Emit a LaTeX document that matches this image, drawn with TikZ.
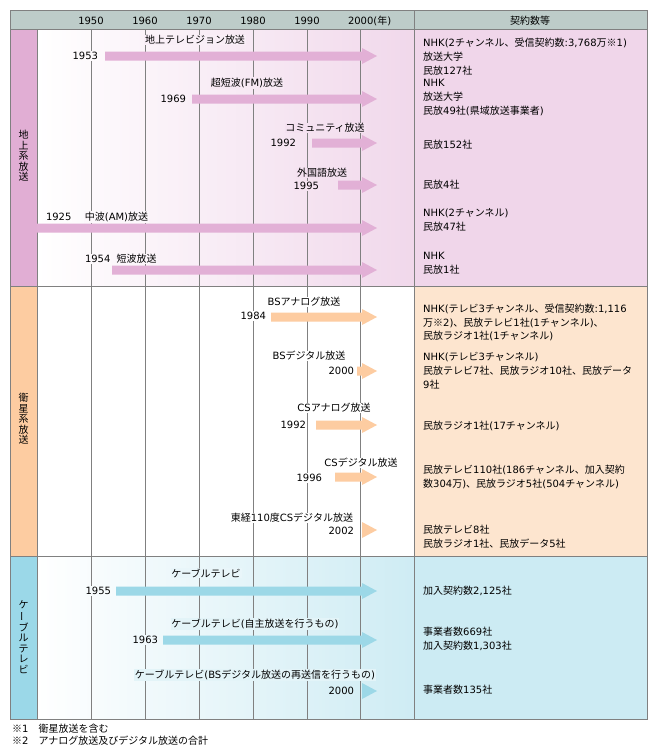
\documentclass[tikz,border=0pt]{standalone}
\usepackage{fontspec}
\setmainfont{Noto Sans CJK JP}
\newfontfamily\latfont{DejaVu Sans}
\newfontfamily\cjkfont{Noto Sans CJK JP}
\chardef\latcls=200
\makeatletter
\@tempcnta=`0 \loop\XeTeXcharclass\@tempcnta=\latcls\ifnum\@tempcnta<`9 \advance\@tempcnta\@ne\repeat
\@tempcnta=`A \loop\XeTeXcharclass\@tempcnta=\latcls\ifnum\@tempcnta<`Z \advance\@tempcnta\@ne\repeat
\@tempcnta=`a \loop\XeTeXcharclass\@tempcnta=\latcls\ifnum\@tempcnta<`z \advance\@tempcnta\@ne\repeat
\XeTeXcharclass`(=\latcls
\XeTeXcharclass`)=\latcls
\XeTeXcharclass`,=\latcls
\XeTeXcharclass`:=\latcls
\XeTeXcharclass`.=\latcls
\@for\cls:=0,1,2,3,4095\do{%
  \XeTeXinterchartoks\cls\latcls={\latfont}%
  \XeTeXinterchartoks\latcls\cls={\cjkfont}}
\makeatother
\XeTeXinterchartokenstate=1
\definecolor{hdrgray}{RGB}{189,204,201}
\definecolor{gridgray}{RGB}{128,128,128}
\definecolor{labP}{RGB}{225,174,212}
\definecolor{arrP}{RGB}{226,176,214}
\definecolor{bgP}{RGB}{240,214,234}
\definecolor{labO}{RGB}{253,204,161}
\definecolor{arrO}{RGB}{253,204,161}
\definecolor{bgO}{RGB}{253,229,207}
\definecolor{labC}{RGB}{155,216,232}
\definecolor{arrC}{RGB}{156,216,231}
\definecolor{bgC}{RGB}{204,235,243}
\newcommand\tlbar[3]{\fill[#1] (#2,{#3-4.5}) -- (362,{#3-4.5}) -- (362,{#3-8}) -- (377,#3) -- (362,{#3+8}) -- (362,{#3+4.5}) -- (#2,{#3+4.5}) -- cycle;}
\tikzset{
  txt/.style={font=\fontsize{10}{13.8}\selectfont, inner sep=0.8pt},
  lbl/.style={txt, fill=#1},
  lbl/.default=white,
  yrE/.style={txt, anchor=east, fill=#1},
  yrE/.default=white,
  yrW/.style={txt, anchor=west, fill=#1},
  rcol/.style={txt, anchor=west, align=left, inner sep=0pt},
  gridline/.style={draw=gridgray, line width=1pt},
  vlab/.style={font=\fontsize{10}{10.5}\selectfont, align=center, inner sep=0pt},
}
\begin{document}
\begin{tikzpicture}[x=1pt,y=-1pt]
\useasboundingbox (0,0) rectangle (657,756);
% header
\fill[hdrgray] (10,10) rectangle (647,29);
% label columns
\fill[labP] (10,29) rectangle (37,286);
\fill[labO] (10,286) rectangle (37,556);
\fill[labC] (10,556) rectangle (37,719);
% timeline backgrounds
\shade[left color=white, right color=bgP!95] (37,29) rectangle (414,286);
\fill[white] (37,286) rectangle (414,556);
\shade[left color=white, right color=bgC!95] (37,556) rectangle (414,719);
% right column
\fill[bgP] (414,29) rectangle (647,286);
\fill[bgO] (414,286) rectangle (647,556);
\fill[bgC] (414,556) rectangle (647,719);
% grid
\foreach \x in {91,145,199,253,307,360} \draw[gridline] (\x,29) -- (\x,719);
\draw[gridline] (37,29) -- (37,719);
\draw[gridline] (414,10) -- (414,719);
\draw[gridline] (10,29) -- (647,29);
\draw[gridline] (10,286) -- (647,286);
\draw[gridline] (10,556) -- (647,556);
\draw[gridline] (10,10) rectangle (647,719);
% header text
\node[txt] (h1950) at (91,20.5) {1950};
\node[txt] (h1960) at (145,20.5) {1960};
\node[txt] (h1970) at (199,20.5) {1970};
\node[txt] (h1980) at (253,20.5) {1980};
\node[txt] (h1990) at (307,20.5) {1990};
\node[txt, anchor=west] (h2000) at (347,20.5) {2000(年)};
\node[txt] (hright) at (530,20.5) {契約数等};
% vertical category labels
\node[vlab] (catT) at (23.5,156) {地\\上\\系\\放\\送};
\node[vlab] (catS) at (23.5,419) {衛\\星\\系\\放\\送};
\node[vlab] (catC) at (23.5,637) {ケ\\\rotatebox[origin=c]{90}{ー}\\ブ\\ル\\テ\\レ\\ビ};
% terrestrial arrows
\tlbar{arrP}{105}{56}
\tlbar{arrP}{192}{99}
\tlbar{arrP}{312}{143}
\tlbar{arrP}{338}{185}
\tlbar{arrP}{37}{228}
\tlbar{arrP}{112}{270}
% satellite arrows
\tlbar{arrO}{271}{317}
\tlbar{arrO}{357}{371}
\tlbar{arrO}{316}{425}
\tlbar{arrO}{335}{477}
\tlbar{arrO}{362}{530}
% cable arrows
\tlbar{arrC}{116}{591}
\tlbar{arrC}{163}{640}
\tlbar{arrC}{362}{691}
% terrestrial labels
\node[lbl=bgP!40] (l1) at (195,40) {地上テレビジョン放送};
\node[yrE=bgP!13] (y1) at (99,56) {1953};
\node[lbl=bgP!53] (l2) at (247,83) {超短波(FM)放送};
\node[yrE=bgP!35] (y2) at (187,99) {1969};
\node[lbl=bgP!73] (l3) at (325,128) {コミュニティ放送};
\node[yrE=bgP!63] (y3) at (297,143) {1992};
\node[lbl=bgP!72] (l4) at (322,173) {外国語放送};
\node[yrE=bgP!68] (y4) at (320,186) {1995};
\node[yrW=bgP!5] (y5) at (45,217) {1925};
\node[lbl=bgP!20] (l5) at (116.5,217) {中波(AM)放送};
\node[yrW=bgP!15] (y6) at (84,259) {1954};
\node[lbl=bgP!25] (l6) at (136.5,259) {短波放送};
% satellite labels
\node[lbl] (l7) at (304,302) {BSアナログ放送};
\node[yrE] (y7) at (267,316) {1984};
\node[lbl] (l8) at (309,356) {BSデジタル放送};
\node[yrE] (y8) at (355,371) {2000};
\node[lbl] (l9) at (334,408) {CSアナログ放送};
\node[yrE] (y9) at (307,425) {1992};
\node[lbl] (l10) at (361,463) {CSデジタル放送};
\node[yrE] (y10) at (323,478) {1996};
\node[lbl, anchor=east] (l11) at (354,518) {東経110度CSデジタル放送};
\node[yrE] (y11) at (355,531) {2002};
% cable labels
\node[lbl=bgC!43] (l12) at (206,573) {ケーブルテレビ};
\node[yrE=bgC!16] (y12) at (112,591) {1955};
\node[lbl=bgC!55] (l13) at (255,624) {ケーブルテレビ(自主放送を行うもの)};
\node[yrE=bgC!28] (y13) at (159,640) {1963};
\node[lbl=bgC!55] (l14) at (255,675) {ケーブルテレビ(BSデジタル放送の再送信を行うもの)};
\node[yrE=bgC!77] (y14) at (355,691) {2000};
% right column texts
\node[rcol] (r1) at (423,56.8) {NHK(2チャンネル、受信契約数:3,768万※1)\\放送大学\\民放127社};
\node[rcol] (r2) at (423,97.3) {NHK\\放送大学\\民放49社(県域放送事業者)};
\node[rcol] (r3) at (423,145) {民放152社};
\node[rcol] (r4) at (423,185) {民放4社};
\node[rcol] (r5) at (423,220) {NHK(2チャンネル)\\民放47社};
\node[rcol] (r6) at (423,263) {NHK\\民放1社};
\node[rcol] (r7) at (423,322.5) {NHK(テレビ3チャンネル、受信契約数:1,116\\万※2)、民放テレビ1社(1チャンネル)、\\民放ラジオ1社(1チャンネル)};
\node[rcol] (r8) at (423,370.5) {NHK(テレビ3チャンネル)\\民放テレビ7社、民放ラジオ10社、民放データ\\9社};
\node[rcol] (r9) at (423,426) {民放ラジオ1社(17チャンネル)};
\node[rcol] (r10) at (423,477) {民放テレビ110社(186チャンネル、加入契約\\数304万)、民放ラジオ5社(504チャンネル)};
\node[rcol] (r11) at (423,537) {民放テレビ8社\\民放ラジオ1社、民放データ5社};
\node[rcol] (r12) at (423,591) {加入契約数2,125社};
\node[rcol] (r13) at (423,639) {事業者数669社\\加入契約数1,303社};
\node[rcol] (r14) at (423,690) {事業者数135社};
% footnotes
\node[txt, anchor=west, align=left, inner sep=0pt, font=\fontsize{10}{12}\selectfont] (notes) at (12,735) {※1\hspace{10pt}衛星放送を含む\\※2\hspace{10pt}アナログ放送及びデジタル放送の合計};
\end{tikzpicture}
\end{document}
